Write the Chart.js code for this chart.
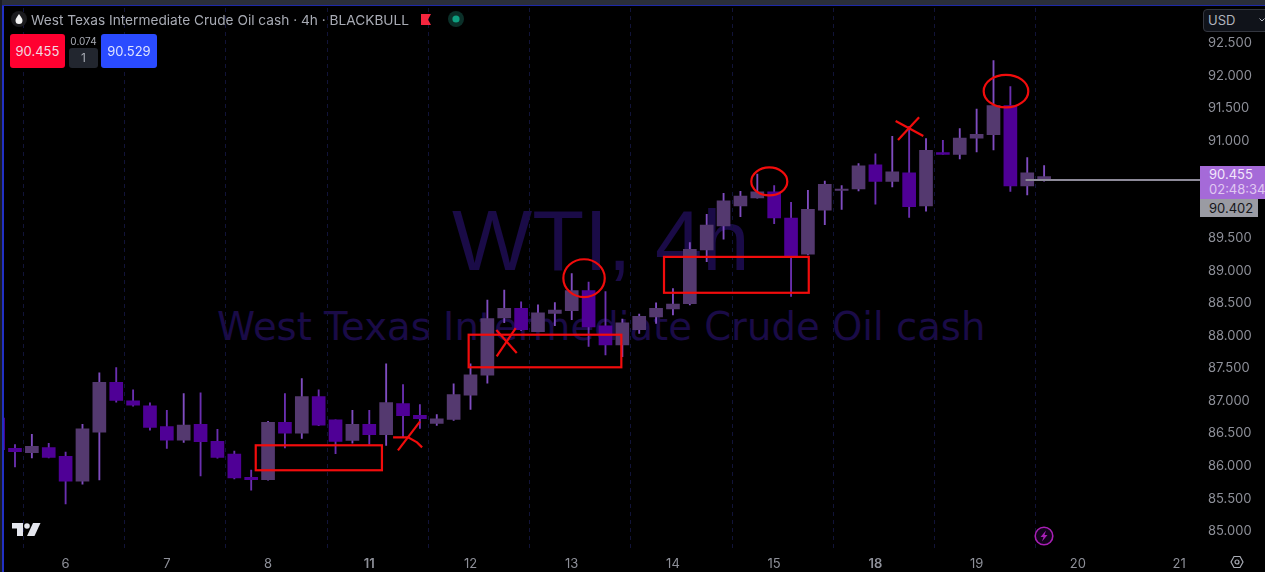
<!DOCTYPE html>
<html>
<head>
<meta charset="utf-8">
<title>WTI 4h</title>
<script src="https://cdn.jsdelivr.net/npm/chart.js@4/dist/chart.umd.min.js"></script>
<style>
  html, body { margin: 0; padding: 0; background: #000; }
  #wrap { position: relative; width: 1265px; height: 572px; overflow: hidden; background: #000; font-family: Inter, "Noto Sans", sans-serif; }
  #wrap > div, #wrap > svg { position: absolute; white-space: nowrap; }
  #chart { position: absolute; left: 0; top: 0; }
  .topband { left: 0; top: 0; width: 1265px; height: 5px; background: #2a2e39; }
  .topline { left: 2px; top: 5px; width: 1263px; height: 1px; background: #1d28a8; }
  .leftline { left: 2px; top: 5px; width: 2px; height: 567px; background: #2230c4; }
  .leftband { left: 0; top: 0; width: 2px; height: 572px; background: #1a1c24; }
  .wm1 { left: 452px; top: 192px; font: 85px "Liberation Sans", sans-serif; color: #1a0b47; }
  .wm2 { left: 217px; top: 304px; font: 38.6px "DejaVu Sans", sans-serif; color: #1a0b47; }
  .title { left: 31px; top: 11px; font-size: 13.7px; line-height: 18px; color: #a8abb4; }
  .chip { border-radius: 3px; text-align: center; font-size: 13px; line-height: 34px; color: #f2d9e0; }
  .red { left: 10px; top: 34px; width: 55px; height: 34px; background: #ff0030; }
  .blue { left: 101px; top: 34px; width: 56px; height: 34px; background: #2a4bff; color: #dfe4ff; }
  .spread { left: 69px; top: 34px; width: 29px; text-align: center; font-size: 10px; line-height: 14px; color: #a8abb4; }
  .qty { left: 69px; top: 48px; width: 29px; height: 20px; border-radius: 3px; background: #22262f; color: #a8abb4; text-align: center; font-size: 12px; line-height: 20px; }
  .usd { left: 1203px; top: 9px; width: 66px; height: 21px; border: 1px solid #33363f; border-radius: 4px; background: #10131a; color: #b2b5be; font-size: 13px; line-height: 21px; text-indent: 4px; }
  .lastbox { left: 1200px; top: 166px; width: 65px; height: 33px; background: #a56ad8; color: #f3e8fb; font-size: 13px; line-height: 15px; padding-top: 1px; box-sizing: border-box; text-indent: 9px; }
  .lastbox span { color: #e0c8f2; display: block; text-indent: 9px; }
  .bidbox { left: 1200px; top: 199px; width: 58px; height: 18px; background: #9a9ba3; color: #15161a; font-size: 13px; line-height: 18px; text-indent: 9px; }
</style>
</head>
<body>
<div id="wrap">
  <div class="wm1">WTI, 4h</div>
  <div class="wm2">West Texas Intermediate Crude Oil cash</div>
  <canvas id="chart" width="1265" height="572"></canvas>
  <div class="topband"></div>
  <div class="leftband"></div>
  <div class="leftline"></div>
  <div class="topline"></div>

  <svg style="left:11px;top:11px" width="16" height="16" viewBox="0 0 16 16">
    <circle cx="8" cy="8" r="8" fill="#1b1b1e"/>
    <path d="M8 3 C10 6 11.5 7.5 11.5 9.5 A3.5 3.5 0 0 1 4.5 9.5 C4.5 7.5 6 6 8 3 Z" fill="#f2f2f2"/>
  </svg>
  <div class="title">West Texas Intermediate Crude Oil cash · 4h · BLACKBULL</div>
  <svg style="left:421px;top:14px" width="11" height="11" viewBox="0 0 11 11"><path d="M0 0 H10 L7 5.5 L10 11 H0 Z" fill="#f6263e"/></svg>
  <svg style="left:448px;top:11px" width="16" height="16" viewBox="0 0 16 16">
    <circle cx="8" cy="8" r="8" fill="#0b3029"/><circle cx="8" cy="8" r="3.6" fill="#0e9f80"/>
  </svg>
  <div class="chip red">90.455</div>
  <div class="spread">0.074</div>
  <div class="qty">1</div>
  <div class="chip blue">90.529</div>

  <div class="usd">USD</div>
  <svg style="left:1259px;top:17px" width="6" height="6" viewBox="0 0 6 6"><path d="M0.5 1.5 L3 4 L5.5 1.5" fill="none" stroke="#b2b5be" stroke-width="1"/></svg>
  <div class="lastbox">90.455<span>02:48:34</span></div>
  <div class="bidbox">90.402</div>

  <svg style="left:12px;top:522px" width="29" height="15" viewBox="0 0 29 15">
    <path d="M0 1 H11 V14 H5 V6.5 H0 Z" fill="#e4e6ee"/><circle cx="15" cy="4" r="2.8" fill="#e4e6ee"/>
    <path d="M21 1 H28.5 L22.5 14 H15 Z" fill="#e4e6ee"/>
  </svg>
  <svg style="left:1034px;top:526px" width="20" height="20" viewBox="0 0 20 20">
    <circle cx="10" cy="10" r="8.8" fill="#12031a" stroke="#a81fb5" stroke-width="1.6"/>
    <path d="M12 4.5 L6.5 11 H9.5 L8 15.5 L13.5 9 H10.5 Z" fill="#a81fb5"/>
  </svg>
  <svg style="left:1230px;top:555px" width="14" height="14" viewBox="0 0 14 14">
    <path d="M4 1.5 H10 L13 7 L10 12.5 H4 L1 7 Z" fill="none" stroke="#a8abb4" stroke-width="1.2"/>
    <circle cx="7" cy="7" r="2" fill="none" stroke="#a8abb4" stroke-width="1.2"/>
  </svg>
</div>

<script>
// Candles, first one is the partly hidden one at the left edge
const opens  = [86.738,86.273,86.207,86.284,86.150,85.767,86.523,87.290,87.005,86.928,86.606,86.400,86.641,86.380,86.186,85.828,85.793,86.672,86.508,87.070,86.713,86.396,86.641,86.483,86.963,86.779,86.656,86.718,87.090,87.397,88.278,88.425,88.067,88.348,88.389,88.701,88.159,87.863,88.098,88.293,88.416,88.497,89.325,89.693,90.004,90.127,90.219,89.816,89.259,89.938,90.241,90.265,90.633,90.379,90.511,90.004,90.823,90.793,91.043,91.100,91.544,90.311,90.399];
const highs  = [86.750,86.330,86.488,86.350,86.216,86.641,87.434,87.515,87.173,86.974,86.856,87.117,87.127,86.564,86.232,85.940,86.687,87.117,87.347,87.173,86.713,86.856,86.856,87.572,87.255,86.948,86.794,87.265,87.572,88.554,88.707,88.528,88.481,88.517,88.962,88.830,88.685,88.262,88.339,88.512,88.732,89.437,89.873,90.195,90.225,90.491,90.317,90.057,90.241,90.383,90.317,90.655,90.802,91.073,91.227,91.038,91.012,91.191,91.492,92.239,91.840,90.747,90.624];
const lows   = [86.240,85.986,86.124,86.124,85.419,85.721,85.787,86.983,86.922,86.554,86.273,86.365,85.848,86.120,85.802,85.629,85.782,86.278,86.426,86.621,86.192,86.354,86.334,86.319,86.437,86.580,86.626,86.702,86.871,87.274,88.205,88.083,88.067,88.159,88.251,87.842,87.710,87.684,88.041,88.195,88.324,88.481,89.146,89.489,89.836,90.123,89.728,88.609,89.248,89.713,89.949,90.234,90.031,90.296,89.827,89.923,90.793,90.725,90.833,90.863,90.225,90.173,90.383];
const closes = [86.253,86.222,86.304,86.135,85.767,86.575,87.290,87.009,86.937,86.595,86.400,86.630,86.376,86.135,85.817,85.793,86.672,86.508,87.070,86.630,86.380,86.641,86.483,86.978,86.774,86.728,86.728,87.101,87.403,88.271,88.425,88.098,88.359,88.400,88.701,88.139,87.863,88.205,88.302,88.425,88.492,89.336,89.708,90.081,90.153,90.219,89.816,89.218,89.949,90.333,90.261,90.618,90.379,90.526,89.989,90.859,90.793,91.047,91.104,91.544,90.311,90.511,90.455];
const firstIndex = -1;

const dayTicks   = [3, 9, 15, 21, 27, 33, 39, 45, 51, 57, 63, 69];
const dayLabels  = ['6', '7', '8', '11', '12', '13', '14', '15', '18', '19', '20', '21'];
const boldDays   = ['11', '18'];
const breakTicks = [0.5, 6.5, 12.5, 18.5, 24.5, 30.5, 36.5, 42.5, 48.5, 54.5, 60.5];
const priceTicks = [85, 85.5, 86, 86.5, 87, 87.5, 88, 88.5, 89, 89.5, 90, 90.5, 91, 91.5, 92, 92.5];

const lastLevel = 90.402;
const lastLineFrom = 59.9;

// Hand drawn marks, in candle index / price
const markBoxes = [[14.27, 21.75, 86.32, 85.936], [26.89, 35.94, 88.021, 87.52], [38.47, 47.05, 89.218, 88.666]];
const markRings = [[33.73, 88.891, 1.227, 0.291], [44.71, 90.379, 1.067, 0.215], [58.74, 91.768, 1.322, 0.25]];
const markLines = [
  [[28.53, 88.093], [29.74, 87.741]],
  [[28.55, 87.689], [29.68, 88.124]],
  [[52.2, 91.308], [53.84, 91.078]],
  [[52.34, 91.017], [53.59, 91.365]],
  [[22.41, 86.442], [23.3, 86.442], [23.83, 86.365], [24.13, 86.288]],
  [[22.7, 86.242], [24.01, 86.687]],
];

const xMin = -0.711, xMax = 70.24;
const yMin = 84.74, yMax = 93.05;

const indexes = opens.map((_, i) => i + firstIndex);
const isUp = i => closes[i] >= opens[i];

const bodies = indexes.map((x, i) => ({ x, y: [opens[i], closes[i]] }));
const wicks  = indexes.map((x, i) => ({ x, y: [lows[i], highs[i]] }));

const handMarks = {
  id: 'handMarks',
  afterDatasetsDraw(chart) {
    const { ctx, scales: { x, y } } = chart;
    ctx.save();
    ctx.strokeStyle = '#f20c0c';
    ctx.lineWidth = 2.2;
    markBoxes.forEach(([x0, x1, top, bottom]) => {
      ctx.strokeRect(x.getPixelForValue(x0), y.getPixelForValue(top),
        x.getPixelForValue(x1) - x.getPixelForValue(x0), y.getPixelForValue(bottom) - y.getPixelForValue(top));
    });
    markRings.forEach(([cx, cy, rx, ry]) => {
      ctx.beginPath();
      ctx.ellipse(x.getPixelForValue(cx), y.getPixelForValue(cy),
        x.getPixelForValue(cx + rx) - x.getPixelForValue(cx),
        y.getPixelForValue(cy) - y.getPixelForValue(cy + ry), 0, 0, Math.PI * 2);
      ctx.stroke();
    });
    markLines.forEach(pts => {
      ctx.beginPath();
      pts.forEach(([px, py], i) => {
        const fn = i ? 'lineTo' : 'moveTo';
        ctx[fn](x.getPixelForValue(px), y.getPixelForValue(py));
      });
      ctx.stroke();
    });
    ctx.restore();
  },
};

new Chart(document.getElementById('chart').getContext('2d'), {
  type: 'bar',
  data: {
    datasets: [
      {
        type: 'line',
        data: [{ x: lastLineFrom, y: lastLevel }, { x: xMax, y: lastLevel }],
        borderColor: '#8d8a99',
        borderWidth: 2,
        pointRadius: 0,
        order: 0,
      },
      {
        data: bodies,
        barThickness: 13,
        backgroundColor: ctx => isUp(ctx.dataIndex) ? '#54396f' : '#4f0096',
        order: 1,
      },
      {
        data: wicks,
        barThickness: 1.2,
        backgroundColor: ctx => isUp(ctx.dataIndex) ? '#7f4cc0' : '#6a2fb0',
        order: 2,
      },
    ],
  },
  options: {
    responsive: false,
    animation: false,
    layout: { autoPadding: false, padding: { left: 3, top: 6, right: 0, bottom: 0 } },
    plugins: { legend: { display: false }, tooltip: { enabled: false } },
    datasets: { bar: { grouped: false } },
    scales: {
      x: {
        type: 'linear',
        offset: false,
        min: xMin,
        max: xMax,
        grid: { display: false },
        border: { display: false },
        afterBuildTicks: axis => { axis.ticks = dayTicks.map(value => ({ value })); },
        afterFit: axis => { axis.height = 24; },
        ticks: {
          autoSkip: false,
          maxRotation: 0,
          padding: 0,
          color: '#8e9099',
          font: ctx => ({
            family: 'Inter',
            size: 13,
            weight: ctx.tick && boldDays.includes(dayLabels[dayTicks.indexOf(ctx.tick.value)]) ? '600' : '400',
          }),
          callback: value => dayLabels[dayTicks.indexOf(value)],
        },
      },
      xBreaks: {
        type: 'linear',
        axis: 'x',
        offset: false,
        position: 'top',
        min: xMin,
        max: xMax,
        grid: { color: '#111338', lineWidth: 1, drawTicks: false, offset: false },
        border: { display: false, dash: [4, 4] },
        afterBuildTicks: axis => { axis.ticks = breakTicks.map(value => ({ value })); },
        afterFit: axis => { axis.height = 0; },
        ticks: { display: false, autoSkip: false },
      },
      y: {
        position: 'right',
        min: yMin,
        max: yMax,
        grid: { display: false },
        border: { display: false },
        afterBuildTicks: axis => { axis.ticks = priceTicks.map(value => ({ value })); },
        afterFit: axis => { axis.width = 65; },
        ticks: {
          autoSkip: false,
          padding: 0,
          color: '#8e9099',
          font: { family: 'Inter', size: 13 },
          callback: value => value.toFixed(3),
        },
      },
    },
  },
  plugins: [handMarks],
});
</script>
</body>
</html>
